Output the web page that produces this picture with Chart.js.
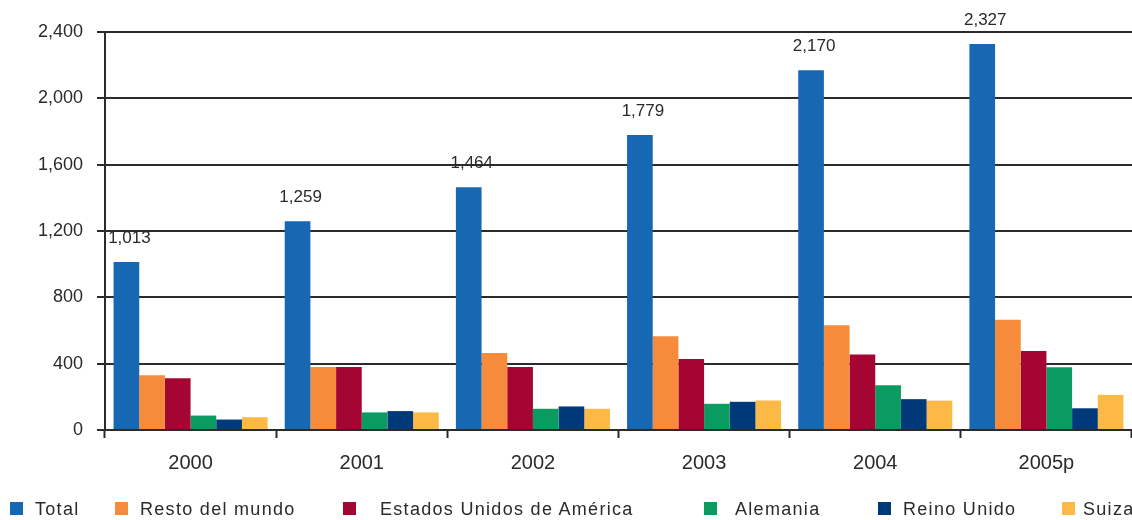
<!DOCTYPE html>
<html>
<head>
<meta charset="utf-8">
<script src="https://cdn.jsdelivr.net/npm/chart.js@4/dist/chart.umd.min.js"></script>
<style>
    html, body { margin: 0; padding: 0; background: #fff; }
    #wrap { position: relative; width: 1132px; height: 520px; overflow: hidden; }
    #legend { position: absolute; left: 0; top: 0; width: 1132px; height: 520px; pointer-events: none; }
    .lg-item { position: absolute; top: 499px; white-space: nowrap; font-family: "Liberation Sans", Arial, sans-serif; font-size: 18px; letter-spacing: 1.3px; color: #2a2a2a; line-height: 20px; }
    .lg-box { position: absolute; top: 502px; width: 13px; height: 13px; }
</style>
</head>
<body>
<div id="wrap">
    <canvas id="chart" width="1132" height="520"></canvas>
    <div id="legend"></div>
</div>
<script>
    // categories and series
    var years = ["2000", "2001", "2002", "2003", "2004", "2005p"];
    var total = [1013, 1259, 1464, 1779, 2170, 2327];
    var restoMundo = [330, 380, 464, 565, 631, 665];
    var estadosUnidos = [312, 380, 380, 428, 455, 476];
    var alemania = [87, 106, 128, 158, 270, 379];
    var reinoUnido = [63, 114, 142, 170, 186, 131];
    var suiza = [77, 106, 128, 178, 177, 212];
    var yTicks = [0, 400, 800, 1200, 1600, 2000, 2400];

    var seriesNames = ["Total", "Resto del mundo", "Estados Unidos de América", "Alemania", "Reino Unido", "Suiza"];
    var seriesData = [total, restoMundo, estadosUnidos, alemania, reinoUnido, suiza];
    var seriesColors = ["#1668b3", "#f58b3b", "#a50533", "#0a9b61", "#00397a", "#fdb945"];

    // legend layout (box x, text x)
    var legendPos = [[10, 35], [115, 140], [343, 380], [704, 735], [878, 903], [1062, 1083]];

    var fontFamily = '"Liberation Sans", Arial, sans-serif';
    var inkColor = '#2a2a2a';
    var lineColor = '#2b2b2b';

    var datasets = seriesNames.map(function (name, i) {
        return {
            label: name,
            data: seriesData[i],
            backgroundColor: seriesColors[i],
            borderWidth: 0,
            categoryPercentage: 0.9,
            barPercentage: 1.0
        };
    });

    // numbers over the Total bars
    var totalLabels = {
        id: 'totalLabels',
        afterDatasetsDraw: function (chart) {
            var ctx = chart.ctx;
            var meta = chart.getDatasetMeta(0);
            ctx.save();
            ctx.font = '17px ' + fontFamily;
            ctx.fillStyle = inkColor;
            ctx.textAlign = 'center';
            ctx.textBaseline = 'middle';
            meta.data.forEach(function (bar, i) {
                ctx.fillText(total[i].toLocaleString('en-US'), bar.x + 3, bar.y - 24);
            });
            ctx.restore();
        }
    };

    var chart = new Chart(document.getElementById('chart').getContext('2d'), {
        type: 'bar',
        data: {
            labels: years,
            datasets: datasets
        },
        plugins: [totalLabels],
        options: {
            responsive: false,
            animation: false,
            layout: {
                padding: { top: 32, right: 0, bottom: 32, left: 0 }
            },
            plugins: {
                legend: { display: false },
                tooltip: { enabled: false },
                title: { display: false }
            },
            scales: {
                x: {
                    grid: {
                        display: true,
                        offset: true,
                        drawOnChartArea: false,
                        drawTicks: true,
                        tickLength: 8,
                        tickWidth: 2,
                        tickColor: lineColor
                    },
                    border: { display: true, color: lineColor, width: 2 },
                    ticks: {
                        color: inkColor,
                        padding: 13,
                        maxRotation: 0,
                        font: { family: fontFamily, size: 20 }
                    }
                },
                y: {
                    min: 0,
                    max: 2400,
                    afterFit: function (scale) {
                        scale.width = 105;
                    },
                    afterBuildTicks: function (scale) {
                        scale.ticks = yTicks.map(function (v) { return { value: v }; });
                    },
                    grid: {
                        color: lineColor,
                        lineWidth: 2,
                        drawTicks: true,
                        tickLength: 8,
                        tickColor: lineColor
                    },
                    border: { display: true, color: lineColor, width: 2 },
                    ticks: {
                        color: inkColor,
                        padding: 14,
                        font: { family: fontFamily, size: 18 },
                        callback: function (value) {
                            return Number(value).toLocaleString('en-US');
                        }
                    }
                }
            }
        }
    });

    // legend as plain html, one box + text per series
    var legendEl = document.getElementById('legend');
    chart.data.datasets.forEach(function (ds, i) {
        var box = document.createElement('div');
        box.className = 'lg-box';
        box.style.left = legendPos[i][0] + 'px';
        box.style.background = ds.backgroundColor;
        legendEl.appendChild(box);

        var txt = document.createElement('div');
        txt.className = 'lg-item';
        txt.style.left = legendPos[i][1] + 'px';
        txt.textContent = ds.label;
        legendEl.appendChild(txt);
    });
</script>
</body>
</html>
